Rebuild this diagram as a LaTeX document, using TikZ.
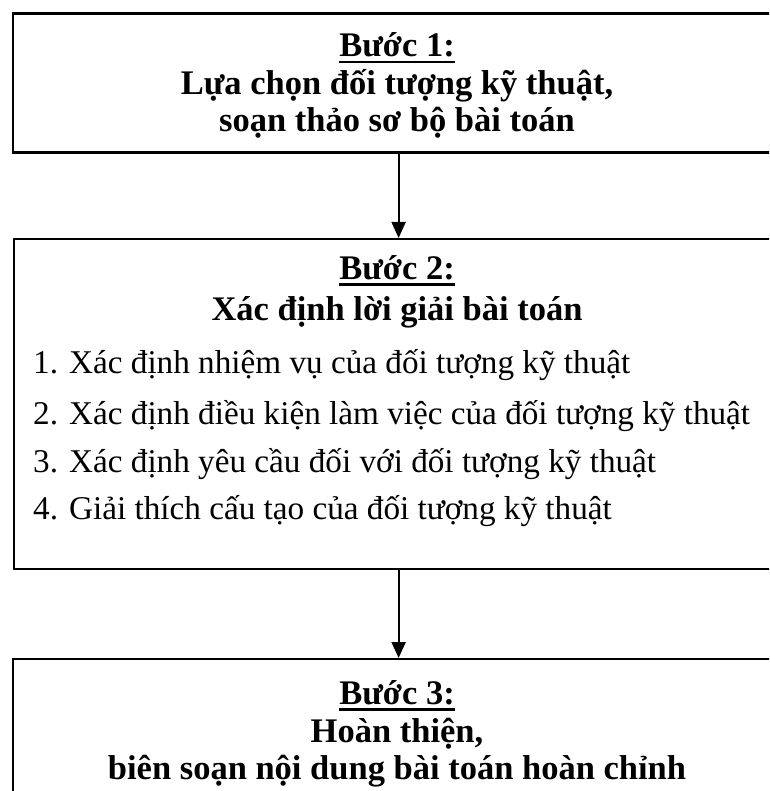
\documentclass[tikz,border=0pt]{standalone}
\usepackage{fontspec}
\setmainfont{Liberation Serif}
\usetikzlibrary{arrows.meta}
\newcommand\stepul[1]{\setbox0\hbox{#1}\leavevmode\rlap{\rule[-6.5pt]{\wd0}{2.6pt}}\box0}
\begin{document}
\begin{tikzpicture}[x=1pt,y=-1pt,
  stepbox/.style={draw=black,line width=2.2pt,inner sep=0pt,anchor=north west},
  head/.style={font=\fontsize{34.5}{38}\selectfont\bfseries,anchor=base,inner sep=0pt},
  entry/.style={font=\fontsize{33.2}{40}\selectfont,anchor=base west,inner sep=0pt},
  link/.style={line width=2pt,-{Triangle[width=14pt,length=16pt]}}]
\useasboundingbox (0,0) rectangle (769,791);
\clip (0,0) rectangle (769,791);
% boxes
\node[stepbox,minimum width=772pt,minimum height=139pt] (b1) at (11.5,12.5) {};
\node[stepbox,minimum width=769pt,minimum height=330pt] (b2) at (13,238) {};
\node[stepbox,minimum width=771pt,minimum height=220pt] (b3) at (12,658) {};
% box 1 text
\node[head] (t1a) at (397,57) {\stepul{Bước 1:}};
\node[head] (t1b) at (397,95) {Lựa chọn đối tượng kỹ thuật,};
\node[head] (t1c) at (397,132) {soạn thảo sơ bộ bài toán};
% box 2 text
\node[head] (t2a) at (397,279) {\stepul{Bước 2:}};
\node[head] (t2b) at (397,320) {Xác định lời giải bài toán};
\node[entry] (i1) at (33,373) {1. Xác định nhiệm vụ của đối tượng kỹ thuật};
\node[entry] (i2) at (33,424) {2. Xác định điều kiện làm việc của đối tượng kỹ thuật};
\node[entry] (i3) at (33,472) {3. Xác định yêu cầu đối với đối tượng kỹ thuật};
\node[entry] (i4) at (33,519) {4. Giải thích cấu tạo của đối tượng kỹ thuật};
% box 3 text
\node[head] (t3a) at (397,704) {\stepul{Bước 3:}};
\node[head] (t3b) at (397,742) {Hoàn thiện,};
\node[head] (t3c) at (397,779) {biên soạn nội dung bài toán hoàn chỉnh};
% connectors
\draw[link] (b1.south) -- (b2.north);
\draw[link] (b2.south) -- (b3.north);
\end{tikzpicture}
\end{document}
